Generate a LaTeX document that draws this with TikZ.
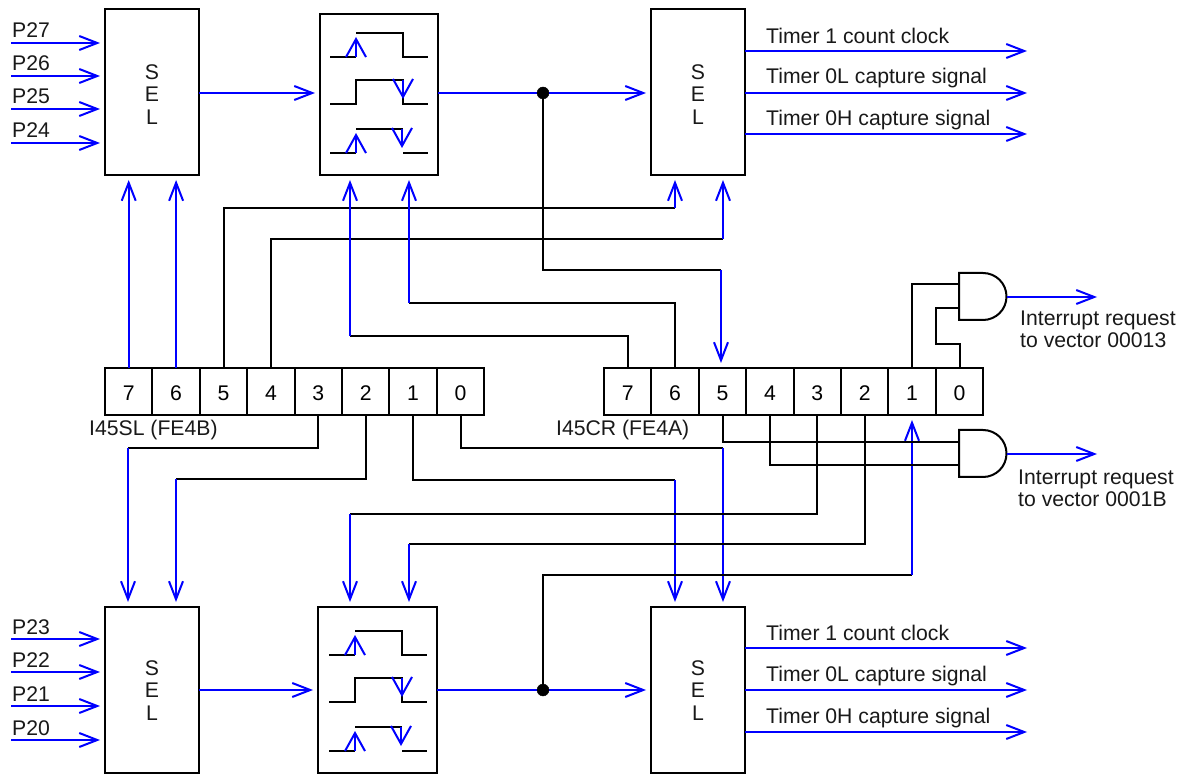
\documentclass[tikz,border=0pt]{standalone}
\usepackage{fontspec}
\setmainfont{Liberation Sans}
\usetikzlibrary{arrows.meta, calc}
\definecolor{SigBlue}{RGB}{0, 0, 255}
\tikzset{
  lbl/.style={font=\fontsize{21.2}{22}\selectfont, inner sep=0pt, color=black!90},
  seltext/.style={lbl, align=center, font=\fontsize{21.2}{22.5}\selectfont},
  blockbox/.style={draw, line width=2pt, outer sep=0pt, minimum width=94pt, minimum height=166pt},
  edgebox/.style={draw, line width=2pt, outer sep=0pt, minimum width=118pt, minimum height=161pt},
  bitcell/.style={draw, line width=2pt, outer sep=0pt, minimum width=47.4pt, minimum height=47pt, inner sep=0pt, font=\fontsize{21.2}{22}\selectfont},
  wire/.style={line width=2pt, color=black},
  sig/.style={line width=2pt, color=SigBlue, -{Straight Barb[length=18pt, width=14pt]}},
  sigin/.style={sig, shorten >=5pt},
  edgetip/.style={line width=2pt, color=SigBlue, -{Straight Barb[length=18pt, width=20pt]}},
  gate/.style={draw, line width=2pt, fill=white},
}
\begin{document}
\begin{tikzpicture}[x=1pt, y=-1pt]
  \useasboundingbox (0,0) rectangle (1195,775);

  % selector blocks and edge blocks
  \node[blockbox] (selA) at (152, 92) {};
  \node[edgebox] (edgeA) at (379, 94.5) {};
  \node[blockbox] (selB) at (698, 92) {};
  \node[blockbox] (selC) at (152, 690) {};
  \node[blockbox, minimum width=119pt] (edgeC) at (377.5, 690) {};
  \node[blockbox] (selD) at (698, 690) {};
  \node[seltext] (selAtext) at (152, 94.5) {S\\E\\L};
  \node[seltext] (selBtext) at (698, 94.5) {S\\E\\L};
  \node[seltext] (selCtext) at (152, 690.5) {S\\E\\L};
  \node[seltext] (selDtext) at (698, 690.5) {S\\E\\L};

  % registers
  \foreach \bit [count=\i from 0] in {7,6,5,4,3,2,1,0} {
    \node[bitcell] (ls\bit) at (128.7+47.4*\i, 391.5) {\raisebox{0pt}[18pt][0pt]{\bit}};
    \node[bitcell] (rs\bit) at (627.7+47.4*\i, 391.5) {\raisebox{0pt}[18pt][0pt]{\bit}};
  }
  \node[lbl, anchor=west] (lname) at (89, 430) {I45SL (FE4B)};
  \node[lbl, anchor=west] (rname) at (556, 430) {I45CR (FE4A)};

  % port inputs
  \foreach \port/\yy in {P27/43, P26/76, P25/109, P24/143} {
    \coordinate (in\port) at (11, \yy);
    \node[lbl, anchor=base west] (lab\port) at (12, \yy-5) {\port};
    \draw[sigin] (in\port) -- (in\port -| selA.west);
  }
  \foreach \port/\yy in {P23/639, P22/672, P21/706, P20/740} {
    \coordinate (in\port) at (11, \yy);
    \node[lbl, anchor=base west] (lab\port) at (12, \yy-5) {\port};
    \draw[sigin] (in\port) -- (in\port -| selC.west);
  }

  % timer outputs
  \foreach \sel/\aa/\bb/\cc in {selB/51/93/134, selD/648/690/732} {
    \coordinate (\sel o1) at (1027, \aa);
    \coordinate (\sel o2) at (1027, \bb);
    \coordinate (\sel o3) at (1027, \cc);
    \draw[sig] (\sel o1 -| \sel.east) -- (\sel o1);
    \draw[sig] (\sel o2 -| \sel.east) -- (\sel o2);
    \draw[sig] (\sel o3 -| \sel.east) -- (\sel o3);
    \node[lbl, anchor=base west] (\sel t1) at (766, \aa-7.5) {Timer 1 count clock};
    \node[lbl, anchor=base west] (\sel t2) at (766, \bb-9) {Timer 0L capture signal};
    \node[lbl, anchor=base west] (\sel t3) at (766, \cc-8.5) {Timer 0H capture signal};
  }

  % edge icons
  \foreach \dx/\dy in {0/0, -1/598} {
    \begin{scope}[shift={(\dx, \dy)}]
      \draw[wire] (330, 57) -- (356, 57);
      \draw[wire] (356, 33) -- (403, 33) -- (403, 57) -- (428, 57);
      \draw[edgetip] (356, 57) -- (356, 37);
      \draw[wire] (330, 104) -- (356, 104) -- (356, 80) -- (403, 80) -- (403, 104) -- (428, 104);
      \draw[edgetip] (403, 80) -- (403, 99);
      \draw[wire] (330, 153) -- (356, 153);
      \draw[wire] (356, 129) -- (403, 129);
      \draw[wire] (403, 153) -- (428, 153);
      \draw[edgetip] (356, 153) -- (356, 133);
      \draw[edgetip] (402, 129) -- (402, 148);
    \end{scope}
  }

  % main signal paths
  \coordinate (dotA) at (543, 93);
  \coordinate (dotC) at (543, 690);
  \draw[sigin] (selA.east |- dotA) -- (edgeA.west |- dotA);
  \draw[sigin] (edgeA.east |- dotA) -- (selB.west |- dotA);
  \draw[sigin] (selC.east |- dotC) -- (edgeC.west |- dotC);
  \draw[sigin] (edgeC.east |- dotC) -- (selD.west |- dotC);

  % upper control lines
  \draw[sigin] (ls7.north) -- (ls7.north |- selA.south);
  \draw[sigin] (ls6.north) -- (ls6.north |- selA.south);
  \coordinate (bendA) at (675, 208);
  \coordinate (bendB) at (723, 239);
  \draw[wire] (ls5.north) |- (bendA);
  \draw[wire] (ls4.north) |- (bendB);
  \draw[sigin] (bendA) -- (bendA |- selB.south);
  \draw[sigin] (bendB) -- (bendB |- selB.south);
  \coordinate (bendC) at (350, 336);
  \coordinate (bendD) at (409, 303);
  \draw[wire] (rs7.north) |- (bendC);
  \draw[wire] (rs6.north) |- (bendD);
  \draw[sigin] (bendC) -- (bendC |- edgeA.south);
  \draw[sigin] (bendD) -- (bendD |- edgeA.south);
  \coordinate (bendE) at (721, 270);
  \draw[wire] (dotA) |- (bendE);
  \draw[sigin] (bendE) -- (bendE |- rs5.north);
  \filldraw (dotA) circle (6pt);

  % lower control lines
  \coordinate (bendF) at (128, 448);
  \coordinate (bendG) at (176, 479);
  \coordinate (bendH) at (675, 480);
  \coordinate (bendI) at (723, 448);
  \draw[wire] (ls3.south) |- (bendF);
  \draw[wire] (ls2.south) |- (bendG);
  \draw[wire] (ls1.south) |- (bendH);
  \draw[wire] (ls0.south) |- (bendI);
  \draw[sigin] (bendF) -- (bendF |- selC.north);
  \draw[sigin] (bendG) -- (bendG |- selC.north);
  \draw[sigin] (bendH) -- (bendH |- selD.north);
  \draw[sigin] (bendI) -- (bendI |- selD.north);
  \coordinate (bendJ) at (350, 514);
  \coordinate (bendK) at (409, 544);
  \draw[wire] (rs3.south) |- (bendJ);
  \draw[wire] (rs2.south) |- (bendK);
  \draw[sigin] (bendJ) -- (bendJ |- edgeC.north);
  \draw[sigin] (bendK) -- (bendK |- edgeC.north);
  \coordinate (bendL) at (912, 575);
  \draw[wire] (dotC) |- (bendL);
  \draw[sigin] (bendL) -- (bendL |- rs1.south);
  \filldraw (dotC) circle (6pt);

  % interrupt gates
  \draw[gate] (959, 273) -- (983, 273) arc (-90:90:23.5) -- (959, 320) -- cycle;
  \draw[gate] (959, 430) -- (983, 430) arc (-90:90:23.5) -- (959, 477) -- cycle;
  \coordinate (gtA) at (959, 284);
  \coordinate (gtB) at (959, 308);
  \coordinate (gtC) at (959, 442);
  \coordinate (gtD) at (959, 465);
  \coordinate (stepA) at (936, 344);
  \draw[wire] (rs1.north) |- (gtA);
  \draw[wire] (rs0.north) |- (stepA) -- (stepA |- gtB) -- (gtB);
  \draw[wire] (rs5.south) |- (gtC);
  \draw[wire] (rs4.south) |- (gtD);
  \coordinate (gtAout) at (1006.5, 297);
  \coordinate (gtBout) at (1006.5, 454);
  \coordinate (irqA) at (1097, 297);
  \coordinate (irqB) at (1097, 454);
  \draw[sig] (gtAout) -- (irqA);
  \draw[sig] (gtBout) -- (irqB);
  \node[lbl, anchor=west, align=left] (irqAlab) at (1020, 329) {Interrupt request\\to vector 00013};
  \node[lbl, anchor=west, align=left] (irqBlab) at (1018, 488.5) {Interrupt request\\to vector 0001B};
\end{tikzpicture}
\end{document}
